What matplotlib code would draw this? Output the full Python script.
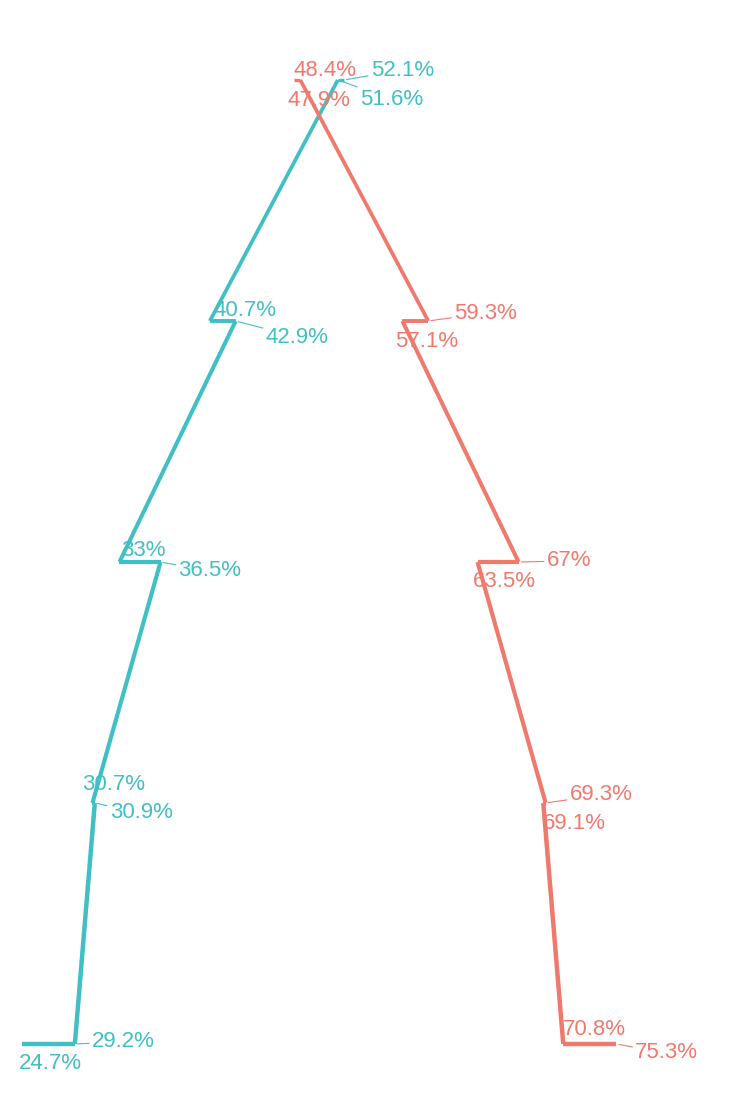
import matplotlib
matplotlib.use("Agg")
import matplotlib.pyplot as plt

plt.rcParams['font.family'] = ['Liberation Sans', 'DejaVu Sans']

# Data: levels (top to bottom), values before / after for each group
levels = [1, 2, 3, 4, 5]
teal_before = [52.1, 40.7, 33.0, 30.7, 29.2]
teal_after = [51.6, 42.9, 36.5, 30.9, 24.7]
salmon_before = [47.9, 59.3, 67.0, 69.3, 70.8]
salmon_after = [48.4, 57.1, 63.5, 69.1, 75.3]

TEAL = "#40BFC4"
SALMON = "#F0796D"

# label offsets in pixels (dx to left edge, dy to centre; screen y downward)
teal_before_off = [(27, -12), (4, -13), (2, -13), (-10, -20), (17, -4)]
teal_after_off = [(22, 17), (30, 14), (18, 7), (15, 8), (-3, 18)]
salmon_before_off = [(-7, 18), (26, -10), (28, -3), (24, -10), (0, -16)]
salmon_after_off = [(-7, -12), (-7, 18), (-5, 18), (0, 19), (19, 7)]
teal_before_seg = [True, False, False, False, True]
teal_after_seg = [True, True, True, True, False]
salmon_before_seg = [False, True, True, True, False]
salmon_after_seg = [False, False, False, False, True]
DY_SHIFT = 2

fig = plt.figure(figsize=(7.45, 10.97), dpi=100)
ax = fig.add_axes([0, 0, 1, 1])
ax.set_xlim(22.826, 86.28)
ax.set_ylim(5.22, 0.668)
ax.axis('off')


def path_points(before, after):
    xs, ys = [], []
    for lv, b, a in zip(levels, before, after):
        xs += [b, a]
        ys += [lv, lv]
    return xs, ys


widths = [2.4, 2.7, 2.8, 2.9, 3.0, 3.0, 3.1, 3.2, 3.2]
for before, after, col in [(teal_before, teal_after, TEAL),
                           (salmon_before, salmon_after, SALMON)]:
    xs, ys = path_points(before, after)
    for i in range(len(xs) - 1):
        ax.plot(xs[i:i + 2], ys[i:i + 2], color=col, lw=widths[i],
                solid_capstyle='butt', solid_joinstyle='round')


def labels(vals, offs, segs, col):
    for lv, v, (dx, dy), s in zip(levels, vals, offs, segs):
        txt = f"{v:g}%"
        ap = dict(arrowstyle='-', color=col, lw=0.8, shrinkA=0, shrinkB=2) if s else None
        ax.annotate(txt, xy=(v, lv), xytext=(dx, -(dy + DY_SHIFT)),
                    textcoords='offset pixels',
                    ha='left', va='center', fontsize=16, color=col,
                    arrowprops=ap)


labels(teal_before, teal_before_off, teal_before_seg, TEAL)
labels(teal_after, teal_after_off, teal_after_seg, TEAL)
labels(salmon_before, salmon_before_off, salmon_before_seg, SALMON)
labels(salmon_after, salmon_after_off, salmon_after_seg, SALMON)

fig.savefig("out.png", dpi=100)
